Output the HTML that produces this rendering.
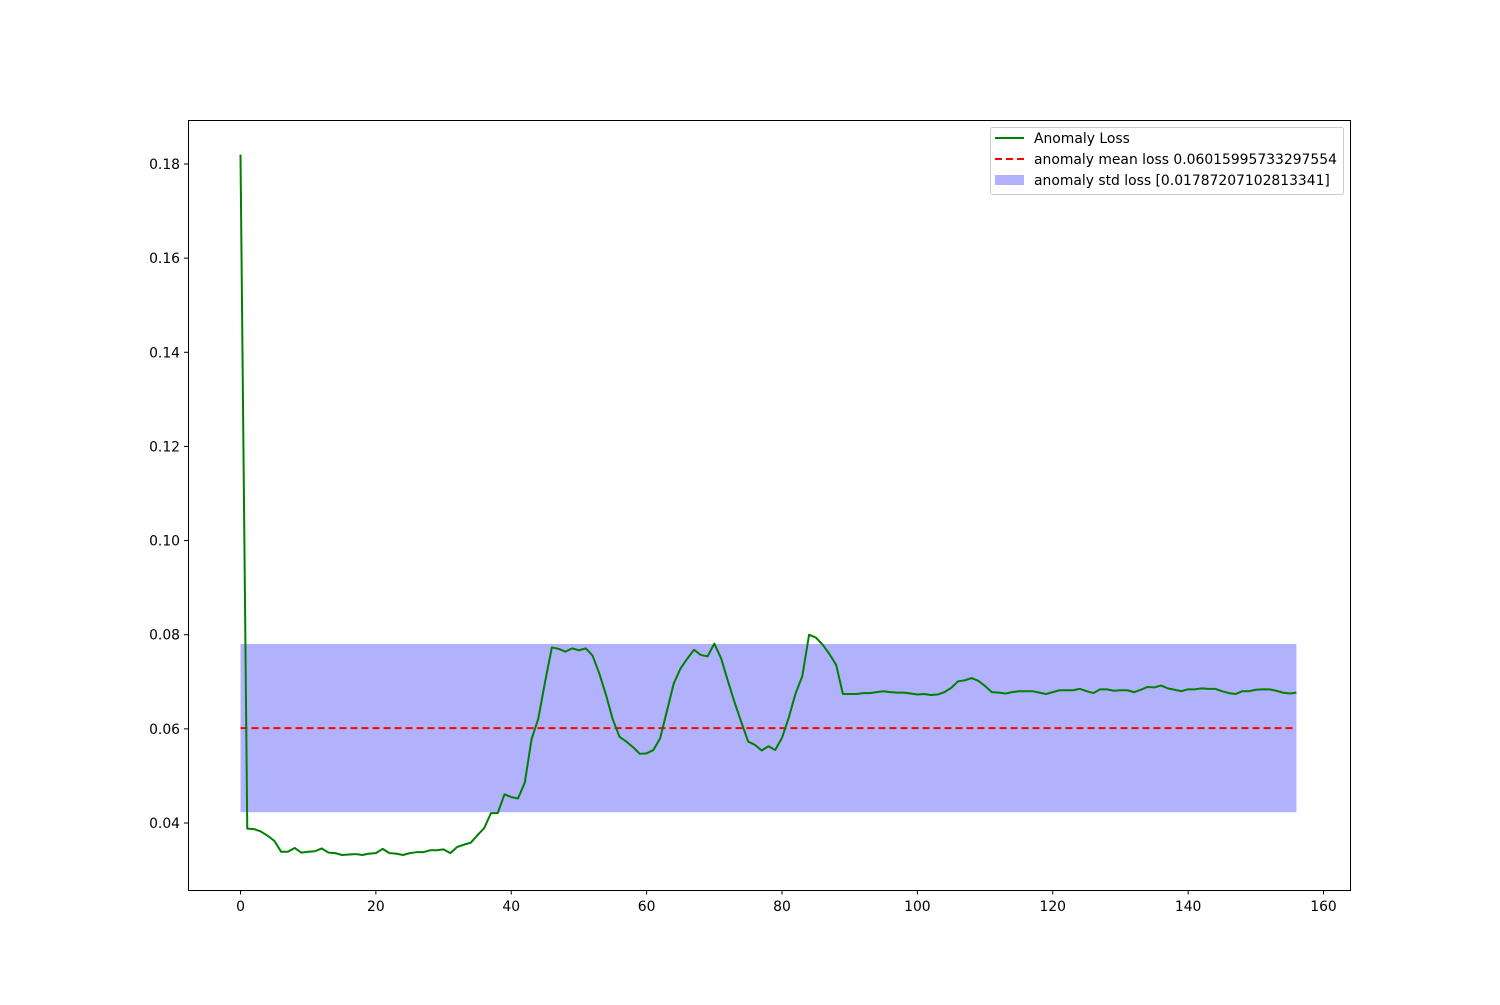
<!DOCTYPE html>
<html><head><meta charset="utf-8"><style>
body{margin:0;background:#fff;}
svg text{font-family:"DejaVu Sans","Liberation Sans",sans-serif;font-size:13.9px;fill:#000;}
</style></head><body>
<svg id="chart" width="1500" height="1000" xmlns="http://www.w3.org/2000/svg">
<rect x="0" y="0" width="1500" height="1000" fill="#fff"/>
<g id="plot"></g>
<rect x="188.5" y="120.5" width="1162" height="770" fill="none" stroke="#000" stroke-width="1"/>
<g id="xticks"></g>
<g id="yticks"></g>
<g>
<rect x="990.5" y="127.5" width="353" height="67" rx="2" fill="#fff" fill-opacity="0.8" stroke="#ccc"/>
<line x1="995" y1="138" x2="1024" y2="138" stroke="green" stroke-width="2"/>
<text x="1034" y="143">Anomaly Loss</text>
<line x1="995" y1="159" x2="1024" y2="159" stroke="red" stroke-width="2" stroke-dasharray="7,4"/>
<text x="1034" y="164">anomaly mean loss 0.06015995733297554</text>
<rect x="995" y="175" width="29" height="10" fill="#b2b2fc"/>
<text x="1034" y="185">anomaly std loss [0.01787207102813341]</text>
</g>
</svg>
<script>
const lossValues=[0.182,0.0388,0.0387,0.0382,0.0373,0.0362,0.0339,0.0339,0.0347,0.0337,0.0339,0.0340,0.0346,0.0337,0.0336,0.0332,0.0333,0.0334,0.0332,0.0335,0.0336,0.0345,0.0336,0.0335,0.0332,0.0336,0.0338,0.0338,0.0342,0.0342,0.0344,0.0336,0.0349,0.0354,0.0358,0.0374,0.0389,0.0421,0.0421,0.0461,0.0455,0.0452,0.0486,0.0578,0.0622,0.0700,0.0773,0.0770,0.0764,0.0771,0.0767,0.0771,0.0756,0.0718,0.0672,0.0620,0.0583,0.0573,0.0561,0.0547,0.0548,0.0555,0.0580,0.0638,0.0696,0.0728,0.0749,0.0768,0.0757,0.0754,0.0781,0.0750,0.0702,0.0656,0.0614,0.0573,0.0566,0.0554,0.0563,0.0555,0.0581,0.0624,0.0675,0.0712,0.0800,0.0794,0.0779,0.0759,0.0736,0.0674,0.0674,0.0674,0.0676,0.0676,0.0678,0.0680,0.0678,0.0677,0.0677,0.0675,0.0673,0.0674,0.0672,0.0673,0.0678,0.0687,0.0701,0.0703,0.0708,0.0702,0.0691,0.0678,0.0677,0.0675,0.0678,0.0680,0.0680,0.0680,0.0677,0.0674,0.0678,0.0682,0.0682,0.0682,0.0685,0.0680,0.0676,0.0684,0.0684,0.0681,0.0682,0.0682,0.0678,0.0683,0.0689,0.0688,0.0692,0.0686,0.0683,0.0680,0.0684,0.0684,0.0686,0.0685,0.0685,0.0680,0.0676,0.0674,0.0680,0.0680,0.0683,0.0684,0.0684,0.0681,0.0677,0.0675,0.0677];
const meanLoss=0.06015995733297554;
const stdLoss=0.01787207102813341;
const xTickValues=[0,20,40,60,80,100,120,140,160];
const yTickValues=[0.04,0.06,0.08,0.10,0.12,0.14,0.16,0.18];
const yTickLabels=["0.04","0.06","0.08","0.10","0.12","0.14","0.16","0.18"];
const NS="http://www.w3.org/2000/svg";
function xs(v){return 240.5+v*(1323.5-240.5)/160;}
function ys(v){return 823-(v-0.04)*(823-164)/0.14;}
function mk(tag,attrs,parent){const e=document.createElementNS(NS,tag);for(const k in attrs)e.setAttribute(k,attrs[k]);parent.appendChild(e);return e;}
const plot=document.getElementById('plot');
const n=lossValues.length-1;
const band=mk('rect',{x:xs(0),y:ys(meanLoss+stdLoss),width:xs(n)-xs(0),height:ys(meanLoss-stdLoss)-ys(meanLoss+stdLoss),fill:'#b2b2fc'},plot);


const ml=mk('line',{x1:xs(0),x2:xs(n),y1:ys(meanLoss),y2:ys(meanLoss),stroke:'red','stroke-width':2,'stroke-dasharray':'7,4'},plot);


const pts=lossValues.map((v,i)=>xs(i).toFixed(2)+','+ys(v).toFixed(2)).join(' ');
const pl=mk('polyline',{points:pts,fill:'none',stroke:'green','stroke-width':2,'stroke-linejoin':'round'},plot);


const xg=document.getElementById('xticks');
xTickValues.forEach(v=>{
  const x=xs(v);
  const t=mk('line',{x1:x,x2:x,y1:890.5,y2:894.5,stroke:'#000'},xg);
  
  
  const l=mk('text',{x:x,y:911,'text-anchor':'middle'},xg);l.textContent=String(v);
  
  
});
const yg=document.getElementById('yticks');
yTickValues.forEach((v,i)=>{
  const y=ys(v);
  const t=mk('line',{x1:184,x2:188.5,y1:y,y2:y,stroke:'#000'},yg);
  
  
  const l=mk('text',{x:180,y:y+5,'text-anchor':'end'},yg);l.textContent=yTickLabels[i];
  
  
});
</script>
</body></html>
